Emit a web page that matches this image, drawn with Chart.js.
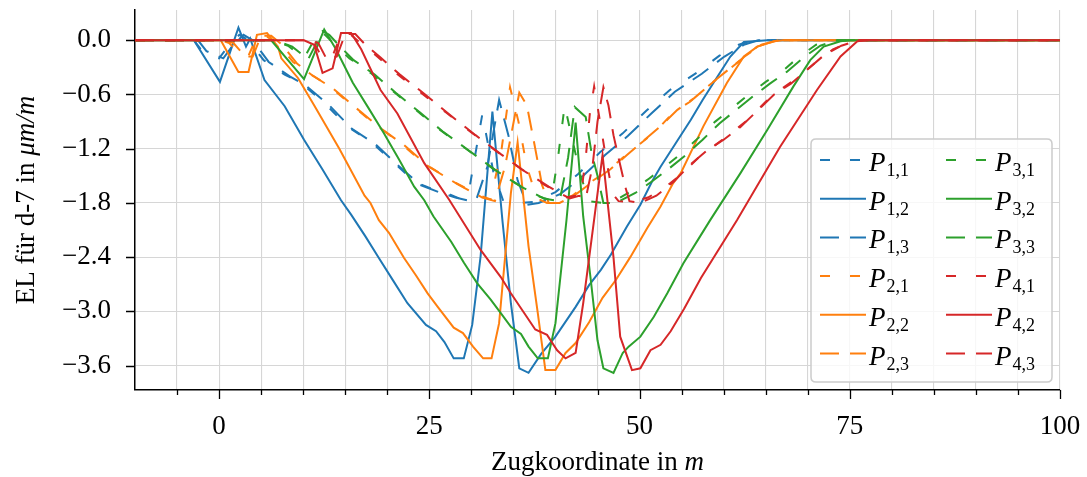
<!DOCTYPE html>
<html><head><meta charset="utf-8">
<script src="https://cdn.jsdelivr.net/npm/chart.js@4.4.1/dist/chart.umd.min.js"></script>
<style>html,body{margin:0;padding:0;background:#fff;overflow:hidden}</style>
</head><body>
<canvas id="c" width="1087" height="477"></canvas>
<script>
// ---- data (x in m, y in µm/m) ----
const P11=[[-10,0],[-3,0],[-2,-0.12],[0,-0.2],[1.2,-0.05],[2.4,0.06],[3.5,0.0],[5.3,-0.22],[7.8,-0.38],[9.7,-0.47],[12.5,-0.69],[15.2,-0.95],[18.0,-1.12],[20.5,-1.33],[23.3,-1.57],[25.5,-1.65],[27.5,-1.71],[28.8,-1.76],[29.8,-1.62],[31.3,-0.82],[32.6,-1.45],[33.8,-1.78],[35.5,-1.8],[37.4,-1.79],[40.0,-1.68],[42.7,-1.48],[45.3,-1.24],[48.0,-1.03],[50.8,-0.78],[53.6,-0.55],[56.8,-0.36],[59.5,-0.17],[61.8,-0.05],[63.5,0],[100,0]];
const P12=[[-10,0],[-3,0],[0.1,-0.46],[2.3,0.14],[3.2,-0.07],[3.7,0.02],[5.4,-0.44],[7.8,-0.73],[10.1,-1.1],[12.3,-1.43],[14.5,-1.77],[15.7,-1.93],[17.4,-2.17],[19.0,-2.41],[20.7,-2.66],[22.4,-2.91],[24.6,-3.15],[25.8,-3.22],[26.8,-3.34],[27.9,-3.52],[29.1,-3.52],[30.1,-3.15],[31.1,-2.39],[32.5,-0.79],[33.7,-2.0],[34.7,-2.91],[35.7,-3.63],[36.8,-3.68],[38.3,-3.47],[40.0,-3.28],[42.4,-2.95],[44.0,-2.71],[45.4,-2.54],[46.6,-2.37],[48.5,-2.06],[50.1,-1.82],[51.5,-1.56],[52.5,-1.4],[54.3,-1.14],[56.1,-0.88],[57.5,-0.66],[58.8,-0.47],[60.8,-0.18],[62.4,-0.02],[65.2,0],[100,0]];
const P13=[[-10,0],[-2.5,0],[-1.5,-0.12],[0.5,-0.2],[1.7,-0.05],[2.9,0.06],[4.0,0.0],[5.9,-0.24],[8.4,-0.4],[10.3,-0.5],[13.1,-0.72],[15.8,-0.98],[18.6,-1.15],[21.1,-1.37],[23.9,-1.6],[26.1,-1.68],[28.1,-1.74],[29.5,-1.77],[30.6,-1.76],[31.9,-1.4],[33.3,-0.66],[34.4,-1.05],[35.5,-1.55],[36.6,-1.82],[38.0,-1.8],[40.6,-1.7],[43.3,-1.5],[45.9,-1.27],[48.6,-1.06],[51.4,-0.81],[54.2,-0.57],[57.4,-0.37],[60.1,-0.18],[62.4,-0.05],[64.1,0],[100,0]];
const P21=[[-10,0],[0.2,0],[1.2,-0.03],[2.6,-0.17],[3.5,-0.17],[4.5,0.04],[5.7,0.04],[7.0,-0.04],[8.8,-0.24],[10.6,-0.36],[13.0,-0.5],[15.8,-0.72],[18.8,-0.95],[21.5,-1.13],[24.3,-1.36],[27.8,-1.56],[30.8,-1.71],[32.3,-1.76],[33.6,-1.2],[34.6,-0.52],[35.6,-0.9],[36.6,-1.4],[37.8,-1.75],[39.0,-1.8],[40.2,-1.79],[42.0,-1.72],[44.0,-1.58],[46.0,-1.46],[48.0,-1.3],[50.0,-1.15],[52.0,-1.0],[54.0,-0.8],[56.0,-0.68],[58.0,-0.52],[60.0,-0.37],[62.0,-0.22],[64.0,-0.07],[66.0,-0.01],[67.0,0],[100,0]];
const P22=[[-10,0],[0.2,0],[2.3,-0.35],[3.5,-0.35],[4.5,0.06],[5.7,0.08],[7.0,-0.07],[7.4,-0.2],[9.4,-0.42],[11.3,-0.72],[14.3,-1.2],[17.3,-1.72],[18.0,-1.8],[19.0,-1.99],[20.2,-2.13],[22.0,-2.41],[23.4,-2.6],[24.8,-2.8],[26.0,-2.95],[27.9,-3.18],[29.0,-3.24],[30.2,-3.39],[31.4,-3.52],[32.4,-3.52],[33.3,-3.13],[34.7,-1.69],[35.5,-1.13],[36.8,-2.28],[37.9,-3.02],[38.8,-3.65],[40.0,-3.65],[41.2,-3.46],[42.4,-3.35],[44.0,-3.12],[45.6,-2.85],[47.2,-2.65],[48.9,-2.4],[50.9,-2.08],[52.5,-1.84],[54.0,-1.58],[54.9,-1.47],[57.6,-0.95],[60.4,-0.47],[62.4,-0.18],[64.0,-0.07],[66.0,-0.01],[67.0,0],[100,0]];
const P23=[[-10,0],[0.7,0],[1.7,-0.03],[3.1,-0.18],[4.0,-0.18],[5.0,0.05],[6.2,0.05],[7.5,-0.05],[9.3,-0.26],[11.1,-0.39],[13.5,-0.53],[16.3,-0.75],[19.3,-0.98],[22.0,-1.16],[24.8,-1.39],[28.3,-1.59],[31.3,-1.74],[32.8,-1.78],[34.0,-1.4],[35.7,-0.58],[36.6,-0.72],[37.5,-1.15],[38.4,-1.6],[39.2,-1.8],[40.5,-1.8],[42.5,-1.7],[44.5,-1.56],[46.5,-1.43],[48.5,-1.27],[50.5,-1.11],[52.5,-0.95],[54.5,-0.77],[56.5,-0.64],[58.5,-0.48],[60.5,-0.33],[62.5,-0.18],[64.5,-0.05],[66.5,0],[100,0]];
const P31=[[-10,0],[6.2,0],[8.2,-0.06],[10.1,-0.2],[11.8,0.09],[12.6,0.06],[13.9,-0.06],[15.5,-0.2],[18.0,-0.36],[20.5,-0.55],[23.4,-0.77],[26.1,-0.98],[29.2,-1.19],[32.4,-1.41],[35.4,-1.59],[38.1,-1.73],[39.5,-1.77],[40.3,-1.3],[41.1,-0.72],[42.0,-1.1],[43.0,-1.5],[44.0,-1.78],[45.5,-1.8],[47.0,-1.78],[49.0,-1.67],[51.0,-1.54],[53.0,-1.4],[55.0,-1.25],[57.0,-1.08],[59.0,-0.9],[61.0,-0.75],[63.0,-0.6],[65.0,-0.46],[67.0,-0.34],[69.0,-0.18],[71.0,-0.05],[73.0,0],[100,0]];
const P32=[[-10,0],[6.2,0],[10.1,-0.43],[12.5,0.12],[13.9,-0.1],[15.9,-0.47],[17.7,-0.74],[19.6,-1.03],[21.4,-1.32],[23.2,-1.62],[24.4,-1.77],[25.5,-1.95],[27.6,-2.23],[29.1,-2.46],[30.7,-2.69],[32.3,-2.87],[33.5,-3.02],[34.7,-3.17],[35.9,-3.25],[36.8,-3.39],[37.9,-3.52],[39.1,-3.52],[40.0,-3.13],[41.3,-2.0],[42.4,-0.91],[43.3,-1.95],[44.2,-2.65],[45.0,-3.32],[45.7,-3.63],[46.9,-3.68],[48.0,-3.46],[48.7,-3.39],[50.1,-3.28],[51.7,-3.06],[53.3,-2.8],[55.2,-2.47],[57.2,-2.17],[58.4,-1.99],[62.0,-1.47],[65.2,-0.99],[68.3,-0.51],[70.3,-0.22],[71.9,-0.07],[73.9,-0.01],[75.0,0],[100,0]];
const P33=[[-10,0],[6.7,0],[8.7,-0.07],[10.6,-0.21],[12.3,0.1],[13.1,0.06],[14.4,-0.07],[16.0,-0.22],[18.5,-0.38],[21.0,-0.58],[23.9,-0.8],[26.6,-1.01],[29.7,-1.22],[32.9,-1.44],[35.9,-1.62],[38.6,-1.75],[40.5,-1.78],[41.5,-1.3],[42.3,-0.74],[43.6,-0.85],[44.3,-1.25],[45.0,-1.5],[45.7,-1.8],[47.2,-1.8],[49.5,-1.69],[51.5,-1.56],[53.5,-1.42],[55.5,-1.27],[57.5,-1.1],[59.5,-0.92],[61.5,-0.77],[63.5,-0.62],[65.5,-0.48],[67.5,-0.35],[69.5,-0.19],[71.5,-0.06],[73.5,0],[100,0]];
const P41=[[-10,0],[10.1,0],[11.3,-0.03],[12.3,-0.2],[13.5,-0.17],[14.5,0.06],[15.7,0.06],[16.9,-0.04],[18.7,-0.17],[21.0,-0.36],[24.0,-0.58],[27.0,-0.8],[30.0,-1.02],[33.0,-1.23],[36.0,-1.43],[38.7,-1.6],[40.2,-1.68],[41.2,-1.74],[42.3,-1.72],[43.0,-1.74],[43.6,-1.3],[44.1,-0.8],[44.6,-0.51],[45.3,-0.9],[46.0,-1.3],[46.8,-1.7],[47.5,-1.78],[49.0,-1.79],[51.0,-1.74],[53.0,-1.63],[55.0,-1.48],[57.0,-1.3],[59.0,-1.16],[61.0,-1.02],[63.0,-0.87],[65.0,-0.68],[67.0,-0.53],[69.0,-0.4],[71.0,-0.24],[73.0,-0.1],[75.0,-0.02],[76.0,0],[100,0]];
const P42=[[-10,0],[10.1,0],[11.3,-0.05],[12.3,-0.36],[13.5,-0.31],[14.5,0.08],[15.7,0.08],[16.9,-0.1],[19.2,-0.55],[21.2,-0.81],[24.4,-1.36],[27.4,-1.77],[31.1,-2.32],[33.5,-2.62],[34.7,-2.8],[37.6,-3.2],[39.0,-3.26],[40.2,-3.43],[41.2,-3.52],[42.4,-3.46],[43.3,-2.91],[44.8,-1.84],[45.6,-1.27],[46.9,-2.4],[47.7,-3.28],[49.1,-3.65],[50.1,-3.63],[51.3,-3.43],[52.5,-3.37],[53.7,-3.22],[55.3,-2.97],[57.3,-2.63],[61.6,-1.99],[66.7,-1.18],[71.1,-0.55],[73.9,-0.18],[75.9,-0.01],[77.0,0],[100,0]];
const P43=[[-10,0],[10.6,0],[11.8,-0.03],[12.8,-0.21],[14.0,-0.18],[15.0,0.07],[16.2,0.07],[17.4,-0.05],[19.2,-0.19],[21.5,-0.38],[24.5,-0.6],[27.5,-0.83],[30.5,-1.05],[33.5,-1.26],[36.5,-1.46],[39.2,-1.62],[40.7,-1.7],[41.7,-1.75],[42.8,-1.72],[43.6,-1.75],[44.4,-1.4],[45.0,-0.9],[45.7,-0.52],[46.3,-0.72],[46.9,-1.05],[47.5,-1.3],[48.3,-1.62],[48.8,-1.78],[50.1,-1.8],[52.0,-1.72],[54.0,-1.57],[56.0,-1.38],[58.0,-1.22],[60.0,-1.1],[62.0,-0.96],[64.0,-0.78],[66.0,-0.6],[68.0,-0.48],[70.0,-0.32],[72.0,-0.16],[74.0,-0.06],[76.0,0],[100,0]];

const seriesData=[P11,P12,P13,P21,P22,P23,P31,P32,P33,P41,P42,P43];
const seriesLabels=['P_{1,1}','P_{1,2}','P_{1,3}','P_{2,1}','P_{2,2}','P_{2,3}','P_{3,1}','P_{3,2}','P_{3,3}','P_{4,1}','P_{4,2}','P_{4,3}'];
const seriesColors=['#1f77b4','#1f77b4','#1f77b4','#ff7f0e','#ff7f0e','#ff7f0e','#2ca02c','#2ca02c','#2ca02c','#d62728','#d62728','#d62728'];
const xGridTicks=[-10,-5,0,5,10,15,20,25,30,35,40,45,50,55,60,65,70,75,80,85,90,95,100];
const xMajorTicks=[0,25,50,75,100];
const yTicks=[-3.6,-3.0,-2.4,-1.8,-1.2,-0.6,0.0];
const xTitle=[['Zugkoordinate in ',false],['m',true]];
const yTitle=[['EL für d-7 in ',false],['μm/m',true]];

const FONT='"Liberation Serif", "Times New Roman", serif';
const FS=27;
const dashFor=i=>(i%3===0?[10,20]:(i%3===2?[19,11]:[]));

const datasets=seriesData.map((d,i)=>({
  label:seriesLabels[i],
  data:d.map(([x,y])=>({x,y})),
  borderColor:seriesColors[i],
  backgroundColor:seriesColors[i],
  borderWidth:2,
  borderDash:dashFor(i),
  pointRadius:0,
  fill:false,
  tension:0,
  order:11-i
}));

function drawMixed(ctx,parts,x,y,size){
  let w=0;
  const ws=parts.map(([t,it])=>{ctx.font=(it?'italic ':'')+size+'px '+FONT;const m=ctx.measureText(t).width;w+=m;return m;});
  let cx=x-w/2;
  parts.forEach(([t,it],k)=>{ctx.font=(it?'italic ':'')+size+'px '+FONT;ctx.fillText(t,cx,y);cx+=ws[k];});
}

const zeroPad=s=>{s.paddingTop=0;s.paddingBottom=0;s.paddingLeft=0;s.paddingRight=0;};

const decor={
  id:'decor',
  afterDraw(chart){
    const {ctx,chartArea:a,scales:{x,y}}=chart;
    ctx.save();
    // tick marks
    ctx.strokeStyle='#000';ctx.lineWidth=1.3;
    ctx.beginPath();
    xGridTicks.forEach(v=>{ if(v===-10) return; const px=Math.round(x.getPixelForValue(v))+0.5; const L=xMajorTicks.includes(v)?9:5; ctx.moveTo(px,a.bottom);ctx.lineTo(px,a.bottom+L);});
    yTicks.forEach(v=>{ const py=Math.round(y.getPixelForValue(v))+0.5; ctx.moveTo(a.left,py);ctx.lineTo(a.left-9,py);});
    ctx.stroke();
    // axis titles
    ctx.fillStyle='#000';ctx.textBaseline='middle';ctx.textAlign='left';
    drawMixed(ctx,xTitle,(a.left+a.right)/2,463,FS);
    ctx.save();ctx.translate(27,(a.top+a.bottom)/2);ctx.rotate(-Math.PI/2);
    drawMixed(ctx,yTitle,0,0,FS);
    ctx.restore();
    // legend
    const bx=811,by=139,bw=241,bh=243,r=5;
    ctx.beginPath();
    ctx.moveTo(bx+r,by);ctx.lineTo(bx+bw-r,by);ctx.quadraticCurveTo(bx+bw,by,bx+bw,by+r);
    ctx.lineTo(bx+bw,by+bh-r);ctx.quadraticCurveTo(bx+bw,by+bh,bx+bw-r,by+bh);
    ctx.lineTo(bx+r,by+bh);ctx.quadraticCurveTo(bx,by+bh,bx,by+bh-r);
    ctx.lineTo(bx,by+r);ctx.quadraticCurveTo(bx,by,bx+r,by);ctx.closePath();
    ctx.fillStyle='rgba(255,255,255,0.8)';ctx.fill();
    ctx.strokeStyle='#cccccc';ctx.lineWidth=1.5;ctx.stroke();
    chart.data.datasets.forEach((ds,i)=>{
      const col=i<6?0:1,row=i%6;
      const cy=160+row*38.7;
      const hx=col===0?820:946;
      ctx.beginPath();ctx.setLineDash(ds.borderDash||[]);ctx.lineDashOffset=0;
      ctx.strokeStyle=ds.borderColor;ctx.lineWidth=2;
      ctx.moveTo(hx,cy);ctx.lineTo(hx+46,cy);ctx.stroke();
      ctx.setLineDash([]);
      const m=ds.label.match(/^(.*)_\{(.*)\}$/);
      ctx.fillStyle='#000';ctx.textBaseline='alphabetic';ctx.textAlign='left';
      ctx.font='italic '+FS+'px '+FONT;
      const tx=hx+49;
      ctx.fillText(m[1],tx,cy+11);
      const pw=ctx.measureText(m[1]).width;
      ctx.font='18px '+FONT;
      ctx.fillText(m[2],tx+pw+1,cy+16);
    });
    ctx.restore();
  }
};

new Chart(document.getElementById('c'),{
  type:'line',
  data:{datasets},
  options:{
    responsive:false,animation:false,devicePixelRatio:1,
    layout:{padding:{top:10,right:27,left:0,bottom:0}},
    plugins:{legend:{display:false},tooltip:{enabled:false}},
    scales:{
      x:{type:'linear',min:-10,max:100,
        afterBuildTicks:s=>{s.ticks=xGridTicks.map(v=>({value:v}));},
        afterFit:s=>{s.height=87;zeroPad(s);},
        ticks:{autoSkip:false,maxRotation:0,padding:21,color:'#000',font:{family:FONT,size:FS},
          callback:v=>xMajorTicks.includes(v)?String(v):''},
        grid:{drawTicks:false,lineWidth:1.1,color:c=>(c.tick&&c.tick.value===-10)?'rgba(0,0,0,0)':'#d6d6d6'},
        border:{display:true,color:'#000',width:1.5}
      },
      y:{type:'linear',min:-3.87,max:0.335,
        afterBuildTicks:s=>{s.ticks=yTicks.map(v=>({value:v}));},
        afterFit:s=>{s.width=135;zeroPad(s);},
        ticks:{padding:24,color:'#000',font:{family:FONT,size:FS},
          callback:v=>(v<0?'\u2212':'')+Math.abs(v).toFixed(1)},
        grid:{drawTicks:false,lineWidth:1.1,color:'#d6d6d6'},
        border:{display:true,color:'#000',width:1.5}
      }
    }
  },
  plugins:[decor]
});
</script>
</body></html>
